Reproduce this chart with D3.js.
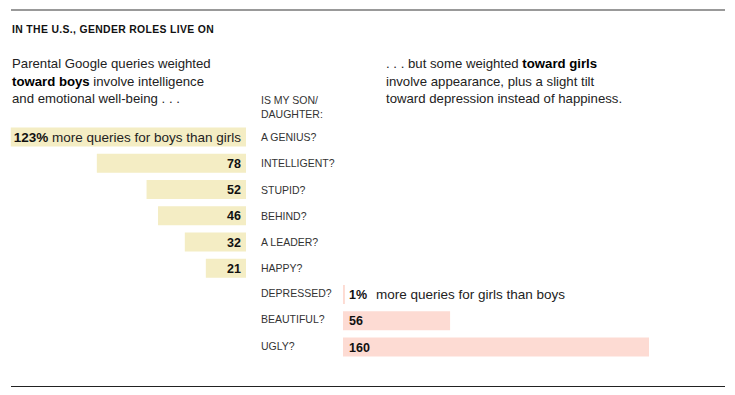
<!DOCTYPE html>
<html>
<head>
<meta charset="utf-8">
<script src="https://cdn.jsdelivr.net/npm/d3@7"></script>
<style>
  body { margin: 0; background: #fff; }
  svg { display: block; font-family: "Liberation Sans", Arial, sans-serif; }
</style>
</head>
<body>
<svg id="chart" width="735" height="395"></svg>
<script>
// Question categories, top to bottom
const categories = ['A GENIUS?', 'INTELLIGENT?', 'STUPID?', 'BEHIND?', 'A LEADER?', 'HAPPY?', 'DEPRESSED?', 'BEAUTIFUL?', 'UGLY?'];
// % more queries for boys than girls
const boyValues = [123, 78, 52, 46, 32, 21, null, null, null];
// % more queries for girls than boys
const girlValues = [null, null, null, null, null, null, 1, 56, 160];

const introLeft = [
    [{ t: 'Parental Google queries weighted' }],
    [{ t: 'toward boys', b: true }, { t: ' involve intelligence' }],
    [{ t: 'and emotional well-being . . .' }]
];
const introRight = [
    [{ t: '. . . but some weighted ' }, { t: 'toward girls', b: true }],
    [{ t: 'involve appearance, plus a slight tilt' }],
    [{ t: 'toward depression instead of happiness.' }]
];

const svg = d3.select('#chart');
const textColor = '#333';

// Rules top and bottom
svg.append('line')
    .attr('x1', 11).attr('x2', 725).attr('y1', 10).attr('y2', 10)
    .attr('stroke', '#999').attr('stroke-width', 2);
svg.append('line')
    .attr('x1', 11).attr('x2', 725).attr('y1', 386.5).attr('y2', 386.5)
    .attr('stroke', '#222').attr('stroke-width', 1);

// Title
svg.append('text')
    .attr('x', 12).attr('y', 33)
    .attr('font-size', 10.4).attr('font-weight', 'bold').attr('fill', '#111')
    .attr('letter-spacing', 0.35)
    .text('IN THE U.S., GENDER ROLES LIVE ON');

// Intro paragraphs
function paragraph(lines, x) {
    lines.forEach((parts, i) => {
        const t = svg.append('text')
            .attr('x', x).attr('y', 68 + i * 17.5)
            .attr('font-size', 13.2).attr('fill', '#222');
        parts.forEach(p => {
            t.append('tspan')
                .attr('font-weight', p.b ? 'bold' : null)
                .attr('fill', p.b ? '#000' : null)
                .text(p.t);
        });
    });
}
paragraph(introLeft, 12);
paragraph(introRight, 386);

// Column header
['IS MY SON/', 'DAUGHTER:'].forEach((s, i) => {
    svg.append('text')
        .attr('x', 261).attr('y', 104 + i * 14)
        .attr('font-size', 10.5).attr('fill', textColor)
        .text(s);
});

// Scales
const y = d3.scalePoint().domain(categories).range([137, 347]);
const barH = 19;
const k = 306 / 160; // px per percentage point
const xBoy = d3.scaleLinear().domain([0, 123]).range([246, 246 - 123 * k]);
const xGirl = d3.scaleLinear().domain([0, 160]).range([343, 343 + 160 * k]);

const rows = categories.map((c, i) => ({ cat: c, boy: boyValues[i], girl: girlValues[i] }));

// Boy bars
const boyRows = rows.filter(d => d.boy != null);
svg.append('g').selectAll('rect')
    .data(boyRows)
    .join('rect')
    .attr('x', d => xBoy(d.boy))
    .attr('width', d => xBoy(0) - xBoy(d.boy))
    .attr('y', d => y(d.cat) - barH / 2)
    .attr('height', barH)
    .attr('fill', '#f4edc4');

const boyText = svg.append('g').selectAll('text')
    .data(boyRows)
    .join('text')
    .attr('x', 241)
    .attr('y', d => y(d.cat) + 4.5)
    .attr('text-anchor', 'end')
    .attr('font-size', d => d.boy === 123 ? 13.5 : 12.5)
    .attr('fill', '#222');
boyText.append('tspan').attr('font-weight', 'bold').attr('fill', '#111')
    .text((d, i) => i === 0 ? d.boy + '%' : d.boy);
boyText.filter((d, i) => i === 0).append('tspan')
    .text(' more queries for boys than girls');

// Girl bars
const girlRows = rows.filter(d => d.girl != null);
svg.append('g').selectAll('rect')
    .data(girlRows)
    .join('rect')
    .attr('x', xGirl(0))
    .attr('width', d => xGirl(d.girl) - xGirl(0))
    .attr('y', d => y(d.cat) - barH / 2)
    .attr('height', barH)
    .attr('fill', '#fddbd3');

const girlText = svg.append('g').selectAll('text')
    .data(girlRows)
    .join('text')
    .attr('x', 349)
    .attr('y', d => y(d.cat) + 4.5)
    .attr('font-size', 12.5)
    .attr('fill', '#222');
girlText.append('tspan').attr('font-weight', 'bold').attr('fill', '#111')
    .text((d, i) => i === 0 ? d.girl + '%' : d.girl);
girlText.filter((d, i) => i === 0).append('tspan')
    .attr('x', 376)
    .attr('font-size', 13.5)
    .text('more queries for girls than boys');

// Category labels
svg.append('g').selectAll('text')
    .data(categories)
    .join('text')
    .attr('x', 261)
    .attr('y', (d, i) => y(d) + 4 - (i >= 6 ? 1.5 : 0))
    .attr('font-size', 10.5)
    .attr('fill', textColor)
    .text(d => d);
</script>
</body>
</html>
